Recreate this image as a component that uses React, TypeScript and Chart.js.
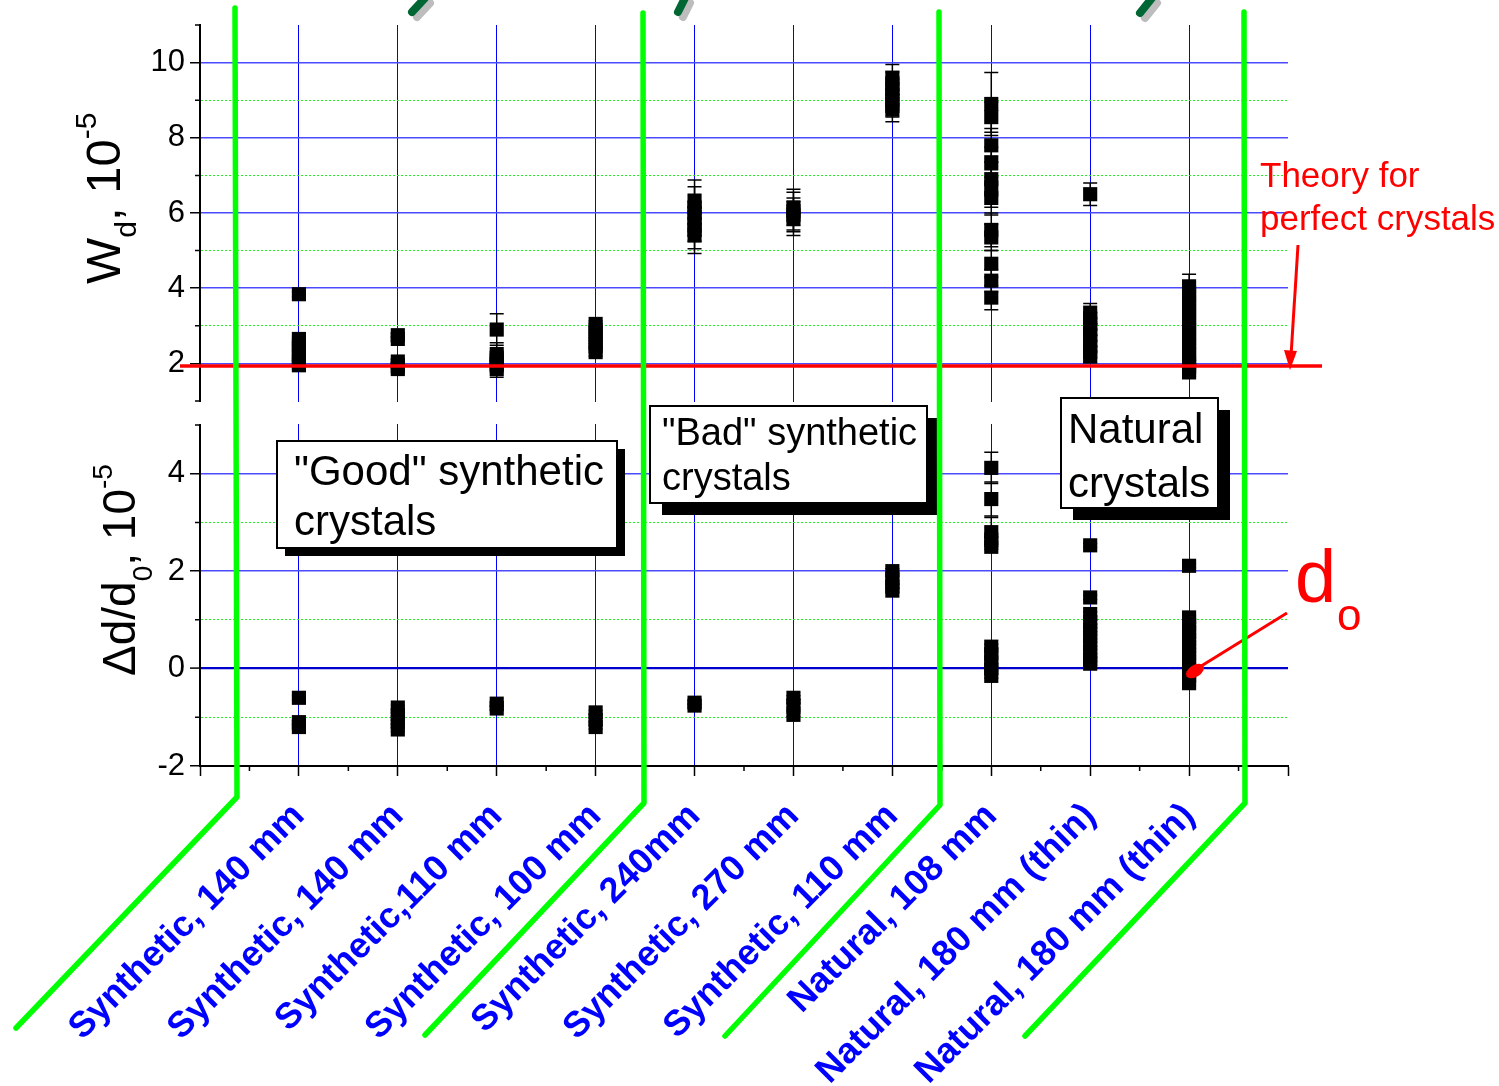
import { useEffect, useRef } from 'react';
import { Chart, registerables } from 'chart.js';

Chart.register(...registerables);

const FONT = "Arial, 'Liberation Sans', Helvetica, sans-serif";

const categories = [
  'Synthetic, 140 mm',
  'Synthetic, 140 mm',
  'Synthetic,110 mm',
  'Synthetic, 100 mm',
  'Synthetic, 240mm',
  'Synthetic, 270 mm',
  'Synthetic, 110 mm',
  'Natural, 108 mm',
  'Natural, 180 mm (thin)',
  'Natural, 180 mm (thin)',
];

// W_d, 10^-5 (upper panel)
const wdValues = [
  [3.84, 2.65, 2.5, 2.35, 2.2, 2.05, 1.95],
  [2.75, 2.65, 2.05, 1.95, 1.85],
  [2.9, 2.25, 2.15, 2.05, 1.95, 1.85],
  [3.05, 2.9, 2.75, 2.6, 2.45, 2.3],
  [6.3, 6.15, 6.0, 5.85, 5.7, 5.55, 5.4],
  [6.15, 6.05, 5.95, 5.85],
  [9.6, 9.45, 9.3, 9.15, 9.0, 8.85, 8.75],
  [8.9, 8.55, 7.8, 7.35, 6.9, 6.65, 6.4, 5.55, 5.35, 4.65, 4.2, 3.75],
  [6.5, 3.35, 3.2, 3.05, 2.9, 2.75, 2.6, 2.45, 2.3, 2.18],
  [4.05, 3.85, 3.65, 3.45, 3.25, 3.05, 2.85, 2.65, 2.45, 2.25, 2.05, 1.9, 1.76],
];
const wdErrors = [
  [0.06, 0.08, 0.06, 0.06, 0.06, 0.08, 0.12],
  [0.06, 0.06, 0.06, 0.08, 0.1],
  [0.42, 0.3, 0.1, 0.1, 0.12, 0.22],
  [0.08, 0.08, 0.08, 0.08, 0.08, 0.1],
  [0.58, 0.55, 0.5, 0.45, 0.45, 0.5, 0.48],
  [0.48, 0.5, 0.45, 0.45],
  [0.35, 0.3, 0.25, 0.25, 0.25, 0.3, 0.32],
  [0.84, 0.4, 0.45, 0.4, 0.45, 0.5, 0.45, 0.45, 0.35, 0.35, 0.3, 0.32],
  [0.3, 0.24, 0.15, 0.15, 0.15, 0.15, 0.15, 0.15, 0.15, 0.15],
  [0.32, 0.2, 0.2, 0.2, 0.2, 0.2, 0.2, 0.2, 0.2, 0.15, 0.1, 0.1, 0.1],
];

// Δd/d0, 10^-5 (lower panel)
const ddValues = [
  [-0.6, -1.1, -1.2],
  [-0.8, -0.95, -1.1, -1.25],
  [-0.72, -0.82],
  [-0.9, -1.05, -1.2],
  [-0.7, -0.76],
  [-0.6, -0.75, -0.95],
  [2.0, 1.85, 1.7, 1.6],
  [4.12, 3.48, 2.8, 2.65, 2.5, 0.45, 0.3, 0.15, 0.0, -0.15],
  [2.53, 1.46, 1.12, 0.95, 0.8, 0.65, 0.5, 0.35, 0.2, 0.1],
  [2.11, 1.05, 0.9, 0.75, 0.6, 0.45, 0.3, 0.15, 0.0, -0.15, -0.3],
];
const ddErrors = [
  [0.04, 0.04, 0.04],
  [0.04, 0.04, 0.04, 0.04],
  [0.04, 0.04],
  [0.04, 0.04, 0.04],
  [0.04, 0.04],
  [0.04, 0.04, 0.04],
  [0.05, 0.05, 0.05, 0.05],
  [0.32, 0.35, 0.3, 0.05, 0.05, 0.05, 0.05, 0.05, 0.05, 0.05],
  [0.04, 0.04, 0.04, 0.04, 0.04, 0.04, 0.04, 0.04, 0.04, 0.04],
  [0.04, 0.04, 0.04, 0.04, 0.04, 0.04, 0.04, 0.04, 0.04, 0.04, 0.04],
];

const wdTickLabels = [2, 4, 6, 8, 10];
const ddTickLabels = [-2, 0, 2, 4];
const theoryWd = 1.93;

type Pt = { x: number; y: number; e: number };
const toPoints = (vals: number[][], errs: number[][]): Pt[] =>
  vals.flatMap((row, ci) => row.map((v, k) => ({ x: ci + 1, y: v, e: errs[ci][k] })));

const isOdd = (v: number) => Math.abs(Math.round(v)) % 2 === 1;

const gapPlugin = {
  id: 'gapPlugin',
  afterLayout(chart: any) {
    const ca = chart.chartArea;
    const t = chart.scales.yTop;
    const b = chart.scales.yBot;
    t.top = ca.top;
    t.bottom = ca.top + 376;
    t.height = t.bottom - t.top;
    b.top = t.bottom + 24;
    b.bottom = ca.bottom;
    b.height = b.bottom - b.top;
    t.configure();
    b.configure();
    t._gridLineItems = null;
    t._labelItems = null;
    b._gridLineItems = null;
    b._labelItems = null;
  },
  beforeDatasetsDraw(chart: any) {
    const { ctx, chartArea } = chart;
    const t = chart.scales.yTop;
    const b = chart.scales.yBot;
    ctx.save();
    ctx.fillStyle = '#ffffff';
    ctx.fillRect(chartArea.left + 2, t.bottom + 1, chartArea.right - chartArea.left + 2, b.top - t.bottom - 2);
    // error bars
    ctx.strokeStyle = '#000';
    ctx.lineWidth = 1.5;
    chart.data.datasets.forEach((ds: any, di: number) => {
      const meta = chart.getDatasetMeta(di);
      const ys = chart.scales[ds.yAxisID];
      meta.data.forEach((el: any, i: number) => {
        const r = ds.data[i] as Pt;
        if (!r.e) return;
        const y1 = ys.getPixelForValue(r.y + r.e);
        const y2 = ys.getPixelForValue(r.y - r.e);
        ctx.beginPath();
        ctx.moveTo(el.x, y1);
        ctx.lineTo(el.x, y2);
        ctx.moveTo(el.x - 7, y1);
        ctx.lineTo(el.x + 7, y1);
        ctx.moveTo(el.x - 7, y2);
        ctx.lineTo(el.x + 7, y2);
        ctx.stroke();
      });
    });
    ctx.restore();
  },
};

const decorPlugin = {
  id: 'decorPlugin',
  afterDraw(chart: any) {
    const ctx: CanvasRenderingContext2D = chart.ctx;
    const x = chart.scales.x;
    const t = chart.scales.yTop;
    const b = chart.scales.yBot;
    ctx.save();

    // minor ticks
    ctx.strokeStyle = '#000';
    ctx.lineWidth = 1.5;
    ctx.beginPath();
    for (let v = 0.5; v < 11; v += 1) {
      const p = x.getPixelForValue(v);
      ctx.moveTo(p, x.top);
      ctx.lineTo(p, x.top + 5);
    }
    for (let v = 1; v <= 11; v += 2) {
      const p = t.getPixelForValue(v);
      ctx.moveTo(t.right - 5, p);
      ctx.lineTo(t.right, p);
    }
    for (let v = -1; v <= 5; v += 2) {
      const p = b.getPixelForValue(v);
      ctx.moveTo(b.right - 5, p);
      ctx.lineTo(b.right, p);
    }
    ctx.stroke();

    // text boxes
    const box = (bx: number, by: number, bw: number, bh: number, off: number, lines: string[], size: number, tx: number, bases: number[]) => {
      ctx.fillStyle = '#000';
      ctx.fillRect(bx + off, by + off, bw, bh);
      ctx.fillStyle = '#fff';
      ctx.fillRect(bx, by, bw, bh);
      ctx.strokeStyle = '#000';
      ctx.lineWidth = 2;
      ctx.strokeRect(bx, by, bw, bh);
      ctx.fillStyle = '#000';
      ctx.font = `${size}px ${FONT}`;
      ctx.textAlign = 'left';
      ctx.textBaseline = 'alphabetic';
      lines.forEach((l, i) => ctx.fillText(l, tx, bases[i]));
    };
    box(277, 441, 340, 107, 8, ['"Good" synthetic', 'crystals'], 42, 294, [485, 535]);
    box(650, 406, 277, 97, 12, ['"Bad" synthetic', 'crystals'], 38, 662, [445, 490]);
    box(1061, 398, 157, 110, 12, ['Natural', 'crystals'], 42, 1068, [443, 497]);

    // theory line
    const ry = t.getPixelForValue(theoryWd);
    ctx.strokeStyle = '#ff0000';
    ctx.lineWidth = 3.5;
    ctx.beginPath();
    ctx.moveTo(180, ry);
    ctx.lineTo(1322, ry);
    ctx.stroke();

    // theory label + arrow
    ctx.fillStyle = '#ff0000';
    ctx.font = `35px ${FONT}`;
    ctx.fillText('Theory for', 1260, 187);
    ctx.fillText('perfect crystals', 1260, 230);
    ctx.lineWidth = 3;
    ctx.beginPath();
    ctx.moveTo(1298, 245);
    ctx.lineTo(1291, 356);
    ctx.stroke();
    ctx.beginPath();
    ctx.moveTo(1290, ry + 4);
    ctx.lineTo(1284, ry - 16);
    ctx.lineTo(1297, ry - 15);
    ctx.closePath();
    ctx.fill();

    // d_o label + pointer
    ctx.font = `74px ${FONT}`;
    ctx.fillText('d', 1295, 602);
    ctx.font = `44px ${FONT}`;
    ctx.fillText('o', 1337, 630);
    ctx.beginPath();
    ctx.moveTo(1287, 613);
    ctx.lineTo(1198, 668);
    ctx.stroke();
    ctx.beginPath();
    ctx.ellipse(1195, 671, 10, 6, -0.56, 0, Math.PI * 2);
    ctx.fill();

    // green separators
    ctx.strokeStyle = '#00ff00';
    ctx.lineWidth = 5.5;
    ctx.lineJoin = 'round';
    ctx.lineCap = 'round';
    const seps = [
      [[235, 8], [237, 797], [16, 1028]],
      [[643, 13], [644, 803], [425, 1035]],
      [[939, 12], [940, 805], [725, 1036]],
      [[1244, 12], [1245, 803], [1025, 1036]],
    ];
    seps.forEach((s) => {
      ctx.beginPath();
      ctx.moveTo(s[0][0], s[0][1]);
      ctx.lineTo(s[1][0], s[1][1]);
      ctx.lineTo(s[2][0], s[2][1]);
      ctx.stroke();
    });

    // dark green stubs at the top (cut-off arrows)
    const stubs = [
      [425, -2, 412, 12],
      [685, -2, 678, 12],
      [1152, -2, 1140, 13],
    ];
    ctx.lineWidth = 8;
    stubs.forEach(([x1, y1, x2, y2]) => {
      ctx.strokeStyle = '#bdbdbd';
      ctx.beginPath();
      ctx.moveTo(x1 + 5, y1 + 5);
      ctx.lineTo(x2 + 5, y2 + 5);
      ctx.stroke();
      ctx.strokeStyle = '#006633';
      ctx.beginPath();
      ctx.moveTo(x1, y1);
      ctx.lineTo(x2, y2);
      ctx.stroke();
    });

    // axis titles with sub/superscripts
    const rich = (bx: number, by: number, parts: { s: string; size: number; dy: number }[]) => {
      ctx.save();
      ctx.translate(bx, by);
      ctx.rotate(-Math.PI / 2);
      ctx.fillStyle = '#000';
      ctx.textAlign = 'left';
      ctx.textBaseline = 'alphabetic';
      let cx = 0;
      parts.forEach((p) => {
        ctx.font = `${p.size}px ${FONT}`;
        ctx.fillText(p.s, cx, p.dy);
        cx += ctx.measureText(p.s).width;
      });
      ctx.restore();
    };
    rich(120, 284, [
      { s: 'W', size: 49, dy: 0 },
      { s: 'd', size: 30, dy: 16 },
      { s: ', 10', size: 49, dy: 0 },
      { s: '-5', size: 30, dy: -24 },
    ]);
    rich(135, 676, [
      { s: '\u0394d/d', size: 46, dy: 0 },
      { s: '0', size: 28, dy: 17 },
      { s: ', 10', size: 46, dy: 0 },
      { s: '-5', size: 28, dy: -23 },
    ]);

    ctx.restore();
  },
};

export default function App() {
  const ref = useRef<HTMLCanvasElement | null>(null);

  useEffect(() => {
    if (!ref.current) return;
    const pointStyle = {
      showLine: false,
      pointStyle: 'rect' as const,
      pointRadius: 10,
      pointHoverRadius: 10,
      pointBackgroundColor: '#000',
      pointBorderColor: '#000',
      pointBorderWidth: 0,
      clip: false as const,
    };
    const chart = new Chart(ref.current, {
      type: 'scatter',
      data: {
        datasets: [
          { label: 'Wd', data: toPoints(wdValues, wdErrors), xAxisID: 'x', yAxisID: 'yTop', ...pointStyle },
          { label: 'dd', data: toPoints(ddValues, ddErrors), xAxisID: 'x', yAxisID: 'yBot', ...pointStyle },
        ],
      },
      options: {
        responsive: false,
        animation: false,
        events: [],
        layout: { padding: { top: 25, right: 211, bottom: 0, left: 0 } },
        plugins: { legend: { display: false }, tooltip: { enabled: false } },
        scales: {
          x: {
            type: 'linear',
            position: 'bottom',
            min: 0,
            max: 11,
            afterFit: (s: any) => {
              s.height = 320;
            },
            ticks: {
              stepSize: 1,
              autoSkip: false,
              minRotation: 45,
              maxRotation: 45,
              padding: 19,
              color: '#0000ff',
              font: { family: FONT, size: 36, weight: 'bold' },
              callback: (v: any) => {
                const i = Math.round(Number(v));
                return i >= 1 && i <= categories.length ? categories[i - 1] : '';
              },
            },
            grid: {
              color: (c: any) => {
                const v = c.tick ? c.tick.value : -1;
                return v >= 1 && v <= 10 ? '#0000ff' : 'rgba(0,0,0,0)';
              },
              lineWidth: 1,
              tickColor: '#000',
              tickLength: 10,
              tickWidth: 1.5,
            },
            border: { display: true, color: '#000', width: 2 },
          },
          yTop: {
            type: 'linear',
            position: 'left',
            stack: 'panels',
            stackWeight: 376,
            min: 1,
            max: 11,
            afterFit: (s: any) => {
              s.width = 200;
            },
            ticks: {
              stepSize: 1,
              autoSkip: false,
              padding: 5,
              color: '#000',
              font: { family: FONT, size: 31 },
              callback: (v: any) => (wdTickLabels.includes(Number(v)) ? String(v) : ''),
            },
            grid: {
              color: (c: any) => {
                const v = c.tick ? c.tick.value : 1;
                if (v <= 1 || v >= 11) return 'rgba(0,0,0,0)';
                return isOdd(v) ? '#22ee22' : '#4a4aff';
              },
              lineWidth: (c: any) => (c.tick && !isOdd(c.tick.value) ? 1.5 : 1),
              tickColor: (c: any) => (c.tick && !isOdd(c.tick.value) ? '#000' : 'rgba(0,0,0,0)'),
              tickLength: 10,
              tickWidth: 1.5,
            },
            border: {
              display: true,
              color: '#000',
              width: 2,
              dash: (c: any) => (c.tick && isOdd(c.tick.value) ? [2, 2] : []),
            },
          },
          yBot: {
            type: 'linear',
            position: 'left',
            stack: 'panels',
            stackWeight: 341,
            min: -2,
            max: 5,
            afterFit: (s: any) => {
              s.width = 200;
            },
            ticks: {
              stepSize: 1,
              autoSkip: false,
              padding: 5,
              color: '#000',
              font: { family: FONT, size: 31 },
              callback: (v: any) => (ddTickLabels.includes(Number(v)) ? String(v) : ''),
            },
            grid: {
              color: (c: any) => {
                const v = c.tick ? c.tick.value : -2;
                if (v <= -2 || v >= 5) return 'rgba(0,0,0,0)';
                if (v === 0) return '#0000cc';
                return isOdd(v) ? '#22ee22' : '#4a4aff';
              },
              lineWidth: (c: any) => {
                if (!c.tick) return 1;
                if (c.tick.value === 0) return 2.2;
                return isOdd(c.tick.value) ? 1 : 1.5;
              },
              tickColor: (c: any) => (c.tick && !isOdd(c.tick.value) ? '#000' : 'rgba(0,0,0,0)'),
              tickLength: 10,
              tickWidth: 1.5,
            },
            border: {
              display: true,
              color: '#000',
              width: 2,
              dash: (c: any) => (c.tick && isOdd(c.tick.value) ? [2, 2] : []),
            },
          },
        },
      } as any,
      plugins: [gapPlugin, decorPlugin],
    });
    return () => chart.destroy();
  }, []);

  return (
    <div style={{ position: 'fixed', left: 0, top: 0, width: 1499, height: 1086, background: '#fff' }}>
      <canvas ref={ref} width={1499} height={1086} style={{ width: 1499, height: 1086, display: 'block' }} />
    </div>
  );
}
